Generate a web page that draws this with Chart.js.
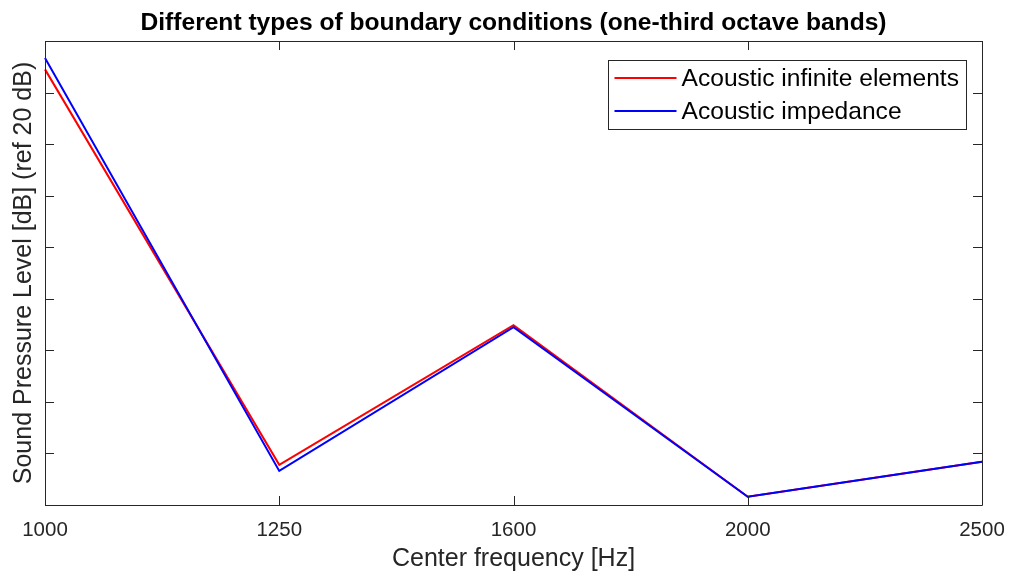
<!DOCTYPE html>
<html>
<head>
<meta charset="utf-8">
<script src="https://cdn.jsdelivr.net/npm/chart.js@4/dist/chart.umd.min.js"></script>
<style>
  html, body { margin: 0; padding: 0; background: #ffffff; }
  #wrap { width: 1010px; height: 575px; }
</style>
</head>
<body>
<div id="wrap"><canvas id="c" width="1010" height="575"></canvas></div>
<script>
// One-third octave band centre frequencies
const frequencies = ['1000', '1250', '1600', '2000', '2500'];

// Sound pressure level per band (axis units, one per tick step)
const infiniteElements = [8.45, 0.78, 3.49, 0.16, 0.84];
const impedance        = [8.67, 0.66, 3.45, 0.16, 0.84];

// Y tick grid (labels hidden)
const yMin = 0;
const yMax = 9;
const yStep = 1;

const seriesNames = ['Acoustic infinite elements', 'Acoustic impedance'];
const seriesColors = ['#ff0000', '#0000ff'];

const axisColor = '#262626';
const FONT = 'Arial, "Liberation Sans", Helvetica, sans-serif';

// Frame, inward tick marks and legend box, MATLAB style
const framePlugin = {
  id: 'frame',
  afterDatasetsDraw(chart) {
    const { ctx, chartArea: a, scales } = chart;
    const tickLen = 9;
    ctx.save();
    ctx.strokeStyle = axisColor;
    ctx.lineWidth = 1;
    ctx.beginPath();
    ctx.rect(Math.round(a.left) + 0.5, Math.round(a.top) + 0.5,
             Math.round(a.right - a.left), Math.round(a.bottom - a.top));
    ctx.stroke();

    ctx.beginPath();
    scales.x.ticks.forEach((t, i) => {
      const x = Math.round(scales.x.getPixelForTick(i)) + 0.5;
      ctx.moveTo(x, a.bottom); ctx.lineTo(x, a.bottom - tickLen);
      ctx.moveTo(x, a.top); ctx.lineTo(x, a.top + tickLen);
    });
    scales.y.ticks.forEach((t, i) => {
      const y = Math.round(scales.y.getPixelForTick(i)) + 0.5;
      ctx.moveTo(a.left, y); ctx.lineTo(a.left + tickLen, y);
      ctx.moveTo(a.right, y); ctx.lineTo(a.right - tickLen, y);
    });
    ctx.stroke();

    // Legend
    ctx.font = '24.6px ' + FONT;
    const textW = Math.max(...seriesNames.map(n => ctx.measureText(n).width));
    const lineLen = 62, padL = 7, gap = 5, padR = 7, rowH = 33, padTop = 18;
    const boxW = padL + lineLen + gap + textW + padR;
    const boxH = padTop * 2 + rowH;
    const boxRight = a.right - 16;
    const boxTop = a.top + 19;
    const boxLeft = boxRight - boxW;
    ctx.fillStyle = '#ffffff';
    ctx.fillRect(boxLeft, boxTop, boxW, boxH);
    ctx.strokeStyle = axisColor;
    ctx.lineWidth = 1;
    ctx.strokeRect(Math.round(boxLeft) + 0.5, Math.round(boxTop) + 0.5, Math.round(boxW), Math.round(boxH));
    ctx.textBaseline = 'middle';
    ctx.textAlign = 'left';
    seriesNames.forEach((name, i) => {
      const y = boxTop + padTop + i * rowH;
      ctx.strokeStyle = seriesColors[i];
      ctx.lineWidth = 2;
      ctx.beginPath();
      ctx.moveTo(boxLeft + padL, y);
      ctx.lineTo(boxLeft + padL + lineLen, y);
      ctx.stroke();
      ctx.fillStyle = '#000000';
      ctx.fillText(name, boxLeft + padL + lineLen + gap, y + 1);
    });
    ctx.restore();
  }
};

new Chart(document.getElementById('c'), {
  type: 'line',
  data: {
    labels: frequencies,
    datasets: [
      { label: seriesNames[0], data: infiniteElements, borderColor: seriesColors[0],
        borderWidth: 2, pointRadius: 0, tension: 0, fill: false, order: 1 },
      { label: seriesNames[1], data: impedance, borderColor: seriesColors[1],
        borderWidth: 2, pointRadius: 0, tension: 0, fill: false, order: 0 }
    ]
  },
  options: {
    responsive: false,
    animation: false,
    layout: { padding: { top: 0, right: 28, bottom: 0, left: 0 } },
    plugins: {
      legend: { display: false },
      tooltip: { enabled: false },
      title: {
        display: true,
        text: 'Different types of boundary conditions (one-third octave bands)',
        fullSize: false,
        color: '#000000',
        font: { family: FONT, size: 24.6, weight: 'bold', lineHeight: 1.2 },
        padding: { top: 8, bottom: 3.5 }
      }
    },
    scales: {
      x: {
        offset: false,
        grid: { display: true, drawOnChartArea: false, drawTicks: true, tickLength: 13, color: 'rgba(0,0,0,0)' },
        border: { display: false },
        ticks: { color: axisColor, font: { family: FONT, size: 20.5 }, padding: 0, maxRotation: 0 },
        title: {
          display: true, text: 'Center frequency [Hz]', color: axisColor,
          font: { family: FONT, size: 25 }, padding: { top: 0, bottom: 1 }
        },
        afterFit(scale) { scale.height = 70; }
      },
      y: {
        min: yMin, max: yMax,
        grid: { display: false, drawTicks: false },
        border: { display: false },
        ticks: { display: false, stepSize: yStep },
        title: {
          display: true, text: 'Sound Pressure Level [dB] (ref 20 dB)', color: axisColor,
          font: { family: FONT, size: 25 }, padding: { top: 9, bottom: 0 }
        },
        afterFit(scale) { scale.width = 45; }
      }
    }
  },
  plugins: [framePlugin]
});
</script>
</body>
</html>
